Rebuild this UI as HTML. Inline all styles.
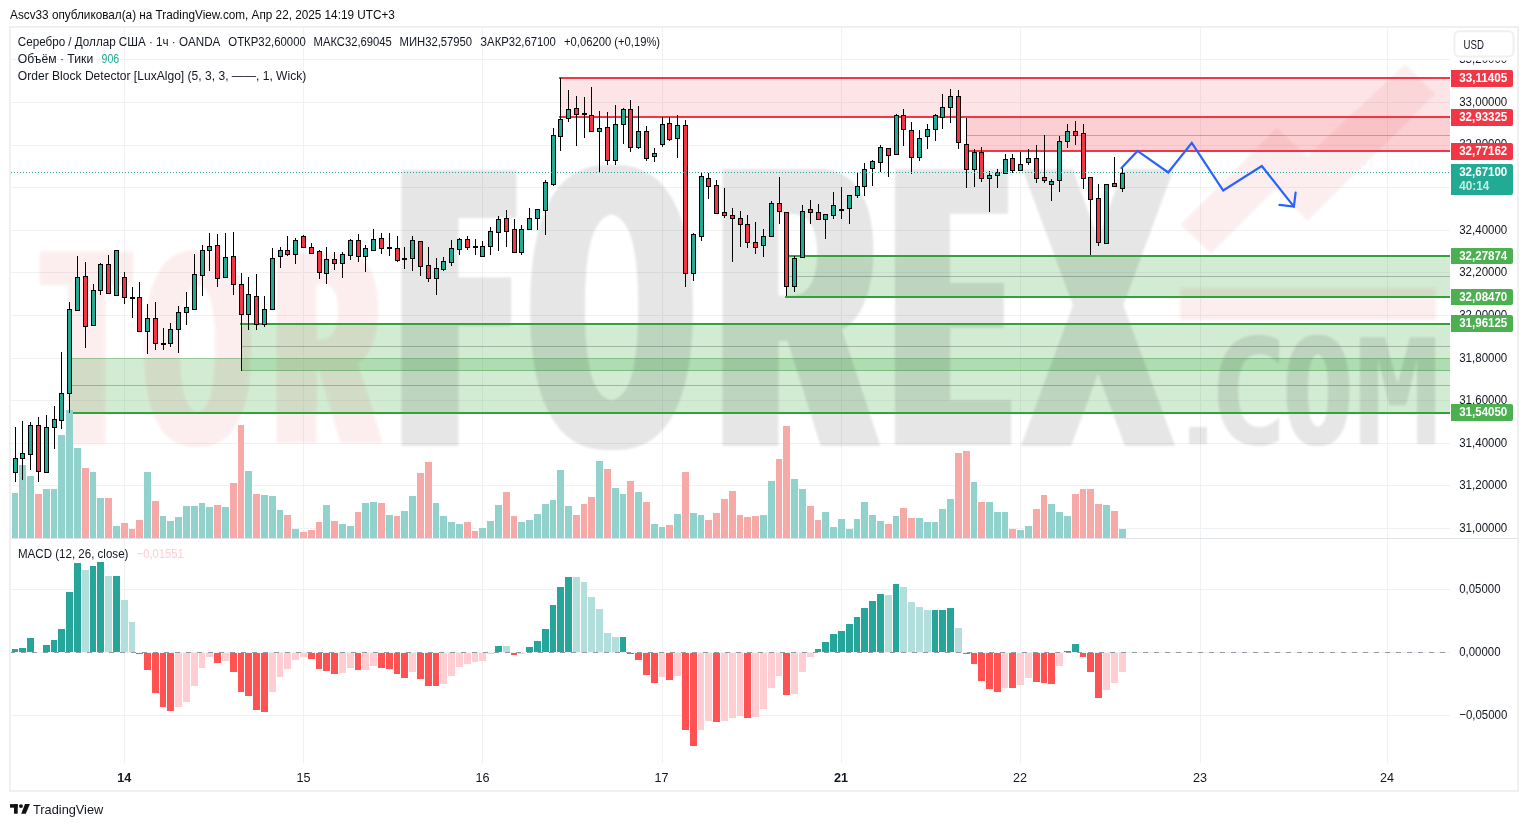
<!DOCTYPE html>
<html><head><meta charset="utf-8"><title>TradingView chart</title>
<style>
html,body{margin:0;padding:0;background:#fff;width:1528px;height:827px;overflow:hidden}
svg{position:absolute;left:0;top:0;display:block}
text{font-family:"Liberation Sans", "DejaVu Sans", sans-serif}
</style></head><body>
<svg width="1528" height="827" viewBox="0 0 1528 827" shape-rendering="crispEdges">

<g fill="#f0f1f3">
<rect x="11" y="59" width="1439" height="1"/>
<rect x="11" y="102" width="1439" height="1"/>
<rect x="11" y="145" width="1439" height="1"/>
<rect x="11" y="187" width="1439" height="1"/>
<rect x="11" y="230" width="1439" height="1"/>
<rect x="11" y="272" width="1439" height="1"/>
<rect x="11" y="315" width="1439" height="1"/>
<rect x="11" y="358" width="1439" height="1"/>
<rect x="11" y="400" width="1439" height="1"/>
<rect x="11" y="443" width="1439" height="1"/>
<rect x="11" y="485" width="1439" height="1"/>
<rect x="11" y="528" width="1439" height="1"/>
<rect x="11" y="589" width="1439" height="1"/>
<rect x="11" y="715" width="1439" height="1"/>
<rect x="124" y="28" width="1" height="735"/>
<rect x="303" y="28" width="1" height="735"/>
<rect x="482" y="28" width="1" height="735"/>
<rect x="662" y="28" width="1" height="735"/>
<rect x="841" y="28" width="1" height="735"/>
<rect x="1020" y="28" width="1" height="735"/>
<rect x="1200" y="28" width="1" height="735"/>
<rect x="1387" y="28" width="1" height="735"/>
</g>
<rect x="561.0" y="79.0" width="889.0" height="37.0" fill="rgba(242,54,69,0.13)" />
<rect x="967.0" y="118.0" width="483.0" height="32.0" fill="rgba(242,54,69,0.24)" />
<rect x="70.0" y="358.5" width="1380.0" height="53.5" fill="rgba(76,175,80,0.25)" />
<rect x="242.0" y="325.0" width="1208.0" height="45.5" fill="rgba(76,175,80,0.25)" />
<rect x="787.0" y="257.0" width="663.0" height="39.0" fill="rgba(76,175,80,0.25)" />
<defs>
<filter id="d83" x="-50%" y="-10%" width="200%" height="120%" color-interpolation-filters="sRGB"><feMorphology operator="dilate" radius="8.3 0"/></filter>
<filter id="d33" x="-50%" y="-10%" width="200%" height="120%" color-interpolation-filters="sRGB"><feMorphology operator="dilate" radius="3.3 0"/></filter>
<filter id="d96" x="-50%" y="-10%" width="200%" height="120%" color-interpolation-filters="sRGB"><feMorphology operator="dilate" radius="9.6 0"/></filter>
<filter id="d145" x="-50%" y="-10%" width="200%" height="120%" color-interpolation-filters="sRGB"><feMorphology operator="dilate" radius="14.5 0"/></filter>
<filter id="d52" x="-50%" y="-10%" width="200%" height="120%" color-interpolation-filters="sRGB"><feMorphology operator="dilate" radius="5.2 0"/></filter>
<filter id="d125" x="-50%" y="-10%" width="200%" height="120%" color-interpolation-filters="sRGB"><feMorphology operator="dilate" radius="12.5 0"/></filter>
<filter id="d170" x="-50%" y="-10%" width="200%" height="120%" color-interpolation-filters="sRGB"><feMorphology operator="dilate" radius="17.0 0"/></filter>
<filter id="d69" x="-50%" y="-10%" width="200%" height="120%" color-interpolation-filters="sRGB"><feMorphology operator="dilate" radius="6.9 0"/></filter>
<filter id="d17" x="-50%" y="-10%" width="200%" height="120%" color-interpolation-filters="sRGB"><feMorphology operator="dilate" radius="1.7 0"/></filter>
<filter id="wblur" x="-2%" y="-2%" width="104%" height="104%"><feGaussianBlur stdDeviation="0.8"/></filter>
</defs>
<g shape-rendering="geometricPrecision" filter="url(#wblur)">
<g opacity="0.09">
<g filter="url(#d83)"><text transform="translate(41.77,444.00) scale(0.07256,0.12894)" style="font-family:'DejaVu Sans Mono','Liberation Mono',monospace;font-weight:bold" font-size="2048" fill="rgb(215,45,45)">T</text></g>
<g filter="url(#d33)"><text transform="translate(138.50,442.83) scale(0.09569,0.12653)" style="font-family:'DejaVu Sans Mono','Liberation Mono',monospace;font-weight:bold" font-size="2048" fill="rgb(215,45,45)">O</text></g>
<g filter="url(#d96)"><text transform="translate(278.10,442.50) scale(0.06567,0.13449)" style="font-family:'Liberation Sans','Liberation Mono',monospace;font-weight:bold" font-size="2048" fill="rgb(215,45,45)">R</text></g>
<rect x="1180.0" y="288.0" width="256.0" height="32.0" fill="rgb(215,45,45)" />
<polygon fill="rgb(215,45,45)" points="1181,224.7 1276.5,128.8 1307.5,156.6 1405.4,64.4 1435,94.1 1307.5,220.5 1275.6,188.6 1211,253.2"/>
</g>
<g opacity="0.1">
<g filter="url(#d145)"><text transform="translate(399.88,446.00) scale(0.09134,0.18486)" style="font-family:'DejaVu Sans Mono','Liberation Mono',monospace;font-weight:bold" font-size="2048" fill="#000">F</text></g>
<g filter="url(#d52)"><text transform="translate(521.81,444.66) scale(0.14555,0.18399)" style="font-family:'DejaVu Sans Mono','Liberation Mono',monospace;font-weight:bold" font-size="2048" fill="#000">O</text></g>
<g filter="url(#d125)"><text transform="translate(721.60,446.00) scale(0.10149,0.19659)" style="font-family:'Liberation Sans','Liberation Mono',monospace;font-weight:bold" font-size="2048" fill="#000">R</text></g>
<g filter="url(#d170)"><text transform="translate(902.21,445.00) scale(0.07143,0.19588)" style="font-family:'Liberation Sans','Liberation Mono',monospace;font-weight:bold" font-size="2048" fill="#000">E</text></g>
<g filter="url(#d69)"><text transform="translate(1024.69,446.00) scale(0.11899,0.18553)" style="font-family:'DejaVu Sans Mono','Liberation Mono',monospace;font-weight:bold" font-size="2048" fill="#000">X</text></g>
<text transform="translate(1164.73,444.00) scale(0.05405,0.04632)" style="font-family:'DejaVu Sans Mono','Liberation Mono',monospace;font-weight:bold" font-size="2048" fill="#000">.</text>
<text transform="translate(1208.02,443.94) scale(0.06566,0.07101)" style="font-family:'DejaVu Sans Mono','Liberation Mono',monospace;font-weight:bold" font-size="2048" fill="#000">C</text>
<g filter="url(#d17)"><text transform="translate(1283.55,443.94) scale(0.05593,0.07101)" style="font-family:'DejaVu Sans Mono','Liberation Mono',monospace;font-weight:bold" font-size="2048" fill="#000">O</text></g>
<text transform="translate(1353.92,444.00) scale(0.07069,0.07100)" style="font-family:'DejaVu Sans Mono','Liberation Mono',monospace;font-weight:bold" font-size="2048" fill="#000">M</text>
</g>
</g>
<rect x="559.0" y="77.0" width="891.0" height="2" fill="#f23645"/>
<rect x="559.0" y="116.0" width="891.0" height="2" fill="#f23645"/>
<rect x="965.0" y="150.0" width="485.0" height="2" fill="#f23645"/>
<rect x="967.0" y="135.0" width="483.0" height="1" fill="rgba(90,90,90,0.38)"/>
<rect x="785.0" y="255.0" width="665.0" height="2" fill="#34a23a"/>
<rect x="785.0" y="296.0" width="665.0" height="2" fill="#34a23a"/>
<rect x="787.0" y="276.0" width="663.0" height="1" fill="rgba(90,90,90,0.38)"/>
<rect x="240.0" y="323.0" width="1210.0" height="2" fill="#34a23a"/>
<rect x="242.0" y="370.0" width="1208.0" height="1" fill="rgba(67,160,71,0.5)"/>
<rect x="242.0" y="346.0" width="1208.0" height="1" fill="rgba(90,90,90,0.38)"/>
<rect x="70.0" y="358.0" width="1380.0" height="1" fill="rgba(67,160,71,0.5)"/>
<rect x="70.0" y="385.0" width="1380.0" height="1" fill="rgba(90,90,90,0.38)"/>
<rect x="68.0" y="412.0" width="1382.0" height="2" fill="#34a23a"/>
<g>
<rect x="12" y="493.0" width="6" height="45.0" fill="#92d2cc"/>
<rect x="19" y="465.2" width="7" height="72.8" fill="#92d2cc"/>
<rect x="27" y="476.1" width="7" height="61.9" fill="#92d2cc"/>
<rect x="35" y="494.1" width="7" height="43.9" fill="#f7a9a7"/>
<rect x="43" y="489.1" width="7" height="48.9" fill="#92d2cc"/>
<rect x="51" y="489.1" width="6" height="48.9" fill="#92d2cc"/>
<rect x="58" y="435.2" width="7" height="102.8" fill="#92d2cc"/>
<rect x="66" y="410.2" width="7" height="127.8" fill="#92d2cc"/>
<rect x="74" y="448.3" width="7" height="89.7" fill="#92d2cc"/>
<rect x="82" y="468.2" width="7" height="69.8" fill="#f7a9a7"/>
<rect x="90" y="472.1" width="6" height="65.9" fill="#92d2cc"/>
<rect x="97" y="498.1" width="7" height="39.9" fill="#92d2cc"/>
<rect x="105" y="498.1" width="7" height="39.9" fill="#f7a9a7"/>
<rect x="113" y="526.2" width="7" height="11.8" fill="#92d2cc"/>
<rect x="121" y="523.0" width="7" height="15.0" fill="#f7a9a7"/>
<rect x="129" y="528.8" width="6" height="9.2" fill="#f7a9a7"/>
<rect x="136" y="520.0" width="7" height="18.0" fill="#f7a9a7"/>
<rect x="144" y="472.1" width="7" height="65.9" fill="#92d2cc"/>
<rect x="152" y="501.2" width="7" height="36.8" fill="#f7a9a7"/>
<rect x="160" y="516.1" width="6" height="21.9" fill="#92d2cc"/>
<rect x="167" y="521.0" width="7" height="17.0" fill="#92d2cc"/>
<rect x="175" y="517.1" width="7" height="20.9" fill="#92d2cc"/>
<rect x="183" y="506.1" width="7" height="31.9" fill="#92d2cc"/>
<rect x="191" y="506.1" width="7" height="31.9" fill="#92d2cc"/>
<rect x="199" y="502.9" width="6" height="35.1" fill="#92d2cc"/>
<rect x="206" y="507.2" width="7" height="30.8" fill="#92d2cc"/>
<rect x="214" y="505.1" width="7" height="32.9" fill="#f7a9a7"/>
<rect x="222" y="507.2" width="7" height="30.8" fill="#92d2cc"/>
<rect x="230" y="483.1" width="7" height="54.9" fill="#f7a9a7"/>
<rect x="238" y="425.0" width="6" height="113.0" fill="#f7a9a7"/>
<rect x="245" y="471.0" width="7" height="67.0" fill="#92d2cc"/>
<rect x="253" y="494.1" width="7" height="43.9" fill="#f7a9a7"/>
<rect x="261" y="495.1" width="7" height="42.9" fill="#92d2cc"/>
<rect x="269" y="496.2" width="7" height="41.8" fill="#92d2cc"/>
<rect x="277" y="510.0" width="6" height="28.0" fill="#92d2cc"/>
<rect x="284" y="515.0" width="7" height="23.0" fill="#f7a9a7"/>
<rect x="292" y="529.2" width="7" height="8.8" fill="#92d2cc"/>
<rect x="300" y="532.0" width="7" height="6.0" fill="#f7a9a7"/>
<rect x="308" y="530.0" width="7" height="8.0" fill="#f7a9a7"/>
<rect x="316" y="522.1" width="6" height="15.9" fill="#f7a9a7"/>
<rect x="323" y="505.1" width="7" height="32.9" fill="#92d2cc"/>
<rect x="331" y="521.0" width="7" height="17.0" fill="#f7a9a7"/>
<rect x="339" y="524.0" width="7" height="14.0" fill="#92d2cc"/>
<rect x="347" y="526.0" width="7" height="12.0" fill="#92d2cc"/>
<rect x="355" y="512.0" width="6" height="26.0" fill="#f7a9a7"/>
<rect x="362" y="502.9" width="7" height="35.1" fill="#92d2cc"/>
<rect x="370" y="502.0" width="7" height="36.0" fill="#92d2cc"/>
<rect x="378" y="502.9" width="7" height="35.1" fill="#f7a9a7"/>
<rect x="386" y="515.0" width="7" height="23.0" fill="#92d2cc"/>
<rect x="394" y="516.1" width="6" height="21.9" fill="#f7a9a7"/>
<rect x="401" y="511.1" width="7" height="26.9" fill="#92d2cc"/>
<rect x="409" y="496.2" width="7" height="41.8" fill="#92d2cc"/>
<rect x="417" y="473.1" width="7" height="64.9" fill="#f7a9a7"/>
<rect x="425" y="462.1" width="7" height="75.9" fill="#f7a9a7"/>
<rect x="433" y="502.9" width="6" height="35.1" fill="#92d2cc"/>
<rect x="440" y="516.1" width="7" height="21.9" fill="#92d2cc"/>
<rect x="448" y="522.1" width="7" height="15.9" fill="#92d2cc"/>
<rect x="456" y="524.0" width="7" height="14.0" fill="#92d2cc"/>
<rect x="464" y="522.1" width="7" height="15.9" fill="#f7a9a7"/>
<rect x="472" y="531.0" width="6" height="7.0" fill="#f7a9a7"/>
<rect x="479" y="528.0" width="7" height="10.0" fill="#92d2cc"/>
<rect x="487" y="521.0" width="7" height="17.0" fill="#92d2cc"/>
<rect x="495" y="505.1" width="7" height="32.9" fill="#92d2cc"/>
<rect x="503" y="492.0" width="7" height="46.0" fill="#f7a9a7"/>
<rect x="511" y="516.1" width="6" height="21.9" fill="#f7a9a7"/>
<rect x="518" y="522.1" width="7" height="15.9" fill="#92d2cc"/>
<rect x="526" y="520.0" width="7" height="18.0" fill="#92d2cc"/>
<rect x="534" y="513.9" width="7" height="24.1" fill="#92d2cc"/>
<rect x="542" y="504.0" width="7" height="34.0" fill="#92d2cc"/>
<rect x="550" y="500.1" width="6" height="37.9" fill="#92d2cc"/>
<rect x="557" y="470.0" width="7" height="68.0" fill="#92d2cc"/>
<rect x="565" y="506.1" width="7" height="31.9" fill="#92d2cc"/>
<rect x="573" y="515.0" width="7" height="23.0" fill="#f7a9a7"/>
<rect x="581" y="504.0" width="6" height="34.0" fill="#f7a9a7"/>
<rect x="588" y="497.0" width="7" height="41.0" fill="#f7a9a7"/>
<rect x="596" y="461.1" width="7" height="76.9" fill="#92d2cc"/>
<rect x="604" y="469.0" width="7" height="69.0" fill="#f7a9a7"/>
<rect x="612" y="488.0" width="7" height="50.0" fill="#92d2cc"/>
<rect x="620" y="494.1" width="6" height="43.9" fill="#92d2cc"/>
<rect x="627" y="481.0" width="7" height="57.0" fill="#f7a9a7"/>
<rect x="635" y="492.0" width="7" height="46.0" fill="#92d2cc"/>
<rect x="643" y="502.0" width="7" height="36.0" fill="#f7a9a7"/>
<rect x="651" y="524.0" width="7" height="14.0" fill="#92d2cc"/>
<rect x="659" y="527.1" width="6" height="10.9" fill="#92d2cc"/>
<rect x="666" y="524.9" width="7" height="13.1" fill="#f7a9a7"/>
<rect x="674" y="513.9" width="7" height="24.1" fill="#92d2cc"/>
<rect x="682" y="472.1" width="7" height="65.9" fill="#f7a9a7"/>
<rect x="690" y="513.0" width="7" height="25.0" fill="#92d2cc"/>
<rect x="698" y="515.0" width="6" height="23.0" fill="#92d2cc"/>
<rect x="705" y="520.0" width="7" height="18.0" fill="#f7a9a7"/>
<rect x="713" y="513.0" width="7" height="25.0" fill="#f7a9a7"/>
<rect x="721" y="499.0" width="7" height="39.0" fill="#f7a9a7"/>
<rect x="729" y="491.0" width="7" height="47.0" fill="#f7a9a7"/>
<rect x="737" y="515.0" width="6" height="23.0" fill="#f7a9a7"/>
<rect x="744" y="517.1" width="7" height="20.9" fill="#f7a9a7"/>
<rect x="752" y="516.1" width="7" height="21.9" fill="#f7a9a7"/>
<rect x="760" y="515.0" width="7" height="23.0" fill="#92d2cc"/>
<rect x="768" y="481.0" width="7" height="57.0" fill="#92d2cc"/>
<rect x="776" y="459.0" width="6" height="79.0" fill="#f7a9a7"/>
<rect x="783" y="426.0" width="7" height="112.0" fill="#f7a9a7"/>
<rect x="791" y="479.2" width="7" height="58.8" fill="#92d2cc"/>
<rect x="799" y="489.1" width="7" height="48.9" fill="#92d2cc"/>
<rect x="807" y="506.1" width="7" height="31.9" fill="#f7a9a7"/>
<rect x="815" y="520.0" width="6" height="18.0" fill="#f7a9a7"/>
<rect x="822" y="512.0" width="7" height="26.0" fill="#92d2cc"/>
<rect x="830" y="527.1" width="7" height="10.9" fill="#92d2cc"/>
<rect x="838" y="519.0" width="7" height="19.0" fill="#92d2cc"/>
<rect x="846" y="528.8" width="7" height="9.2" fill="#92d2cc"/>
<rect x="854" y="519.0" width="6" height="19.0" fill="#92d2cc"/>
<rect x="861" y="502.0" width="7" height="36.0" fill="#92d2cc"/>
<rect x="869" y="515.0" width="7" height="23.0" fill="#92d2cc"/>
<rect x="877" y="521.0" width="7" height="17.0" fill="#92d2cc"/>
<rect x="885" y="524.0" width="7" height="14.0" fill="#f7a9a7"/>
<rect x="893" y="516.1" width="6" height="21.9" fill="#92d2cc"/>
<rect x="900" y="508.0" width="7" height="30.0" fill="#f7a9a7"/>
<rect x="908" y="518.2" width="7" height="19.8" fill="#f7a9a7"/>
<rect x="916" y="518.2" width="7" height="19.8" fill="#92d2cc"/>
<rect x="924" y="522.1" width="7" height="15.9" fill="#92d2cc"/>
<rect x="932" y="522.1" width="6" height="15.9" fill="#92d2cc"/>
<rect x="939" y="509.0" width="7" height="29.0" fill="#92d2cc"/>
<rect x="947" y="499.0" width="7" height="39.0" fill="#92d2cc"/>
<rect x="955" y="453.0" width="7" height="85.0" fill="#f7a9a7"/>
<rect x="963" y="451.1" width="7" height="86.9" fill="#f7a9a7"/>
<rect x="971" y="482.0" width="6" height="56.0" fill="#92d2cc"/>
<rect x="978" y="502.0" width="7" height="36.0" fill="#f7a9a7"/>
<rect x="986" y="502.0" width="7" height="36.0" fill="#92d2cc"/>
<rect x="994" y="512.0" width="7" height="26.0" fill="#92d2cc"/>
<rect x="1002" y="512.0" width="6" height="26.0" fill="#92d2cc"/>
<rect x="1009" y="528.8" width="7" height="9.2" fill="#f7a9a7"/>
<rect x="1017" y="530.0" width="7" height="8.0" fill="#92d2cc"/>
<rect x="1025" y="526.0" width="7" height="12.0" fill="#92d2cc"/>
<rect x="1033" y="509.0" width="7" height="29.0" fill="#f7a9a7"/>
<rect x="1041" y="495.1" width="6" height="42.9" fill="#f7a9a7"/>
<rect x="1048" y="504.0" width="7" height="34.0" fill="#92d2cc"/>
<rect x="1056" y="512.0" width="7" height="26.0" fill="#92d2cc"/>
<rect x="1064" y="516.1" width="7" height="21.9" fill="#92d2cc"/>
<rect x="1072" y="494.1" width="7" height="43.9" fill="#f7a9a7"/>
<rect x="1080" y="489.1" width="6" height="48.9" fill="#f7a9a7"/>
<rect x="1087" y="489.1" width="7" height="48.9" fill="#f7a9a7"/>
<rect x="1095" y="504.0" width="7" height="34.0" fill="#f7a9a7"/>
<rect x="1103" y="505.1" width="7" height="32.9" fill="#92d2cc"/>
<rect x="1111" y="511.1" width="7" height="26.9" fill="#f7a9a7"/>
<rect x="1119" y="528.8" width="7" height="9.2" fill="#92d2cc"/>
</g>
<g>
<rect x="15" y="427.2" width="1" height="54.4" fill="#000"/>
<rect x="13" y="458.4" width="5" height="15.0" fill="#000"/>
<rect x="14" y="459.4" width="3" height="13.0" fill="#22ab94"/>
<rect x="22" y="421.4" width="1" height="58.4" fill="#000"/>
<rect x="20" y="453.3" width="5" height="5.3" fill="#000"/>
<rect x="21" y="454.3" width="3" height="3.3" fill="#22ab94"/>
<rect x="30" y="422.0" width="1" height="47.7" fill="#000"/>
<rect x="28" y="425.3" width="5" height="29.3" fill="#000"/>
<rect x="29" y="426.3" width="3" height="27.3" fill="#22ab94"/>
<rect x="38" y="417.3" width="1" height="64.3" fill="#000"/>
<rect x="36" y="425.4" width="5" height="47.0" fill="#000"/>
<rect x="37" y="426.4" width="3" height="45.0" fill="#f23645"/>
<rect x="46" y="415.3" width="1" height="57.3" fill="#000"/>
<rect x="44" y="427.2" width="5" height="45.5" fill="#000"/>
<rect x="45" y="428.2" width="3" height="43.5" fill="#22ab94"/>
<rect x="54" y="406.1" width="1" height="42.5" fill="#000"/>
<rect x="52" y="419.2" width="5" height="9.2" fill="#000"/>
<rect x="53" y="420.2" width="3" height="7.2" fill="#22ab94"/>
<rect x="61" y="352.0" width="1" height="76.6" fill="#000"/>
<rect x="59" y="393.3" width="5" height="27.2" fill="#000"/>
<rect x="60" y="394.3" width="3" height="25.2" fill="#22ab94"/>
<rect x="69" y="302.3" width="1" height="110.3" fill="#000"/>
<rect x="67" y="308.5" width="5" height="85.8" fill="#000"/>
<rect x="68" y="309.5" width="3" height="83.8" fill="#22ab94"/>
<rect x="77" y="255.9" width="1" height="55.5" fill="#000"/>
<rect x="75" y="277.2" width="5" height="33.3" fill="#000"/>
<rect x="76" y="278.2" width="3" height="31.3" fill="#22ab94"/>
<rect x="85" y="262.1" width="1" height="85.5" fill="#000"/>
<rect x="83" y="276.2" width="5" height="51.1" fill="#000"/>
<rect x="84" y="277.2" width="3" height="49.1" fill="#f23645"/>
<rect x="93" y="284.3" width="1" height="41.0" fill="#000"/>
<rect x="91" y="290.3" width="5" height="36.0" fill="#000"/>
<rect x="92" y="291.3" width="3" height="34.0" fill="#22ab94"/>
<rect x="100" y="263.0" width="1" height="32.4" fill="#000"/>
<rect x="98" y="264.0" width="5" height="26.6" fill="#000"/>
<rect x="99" y="265.0" width="3" height="24.6" fill="#22ab94"/>
<rect x="108" y="254.9" width="1" height="38.5" fill="#000"/>
<rect x="106" y="264.4" width="5" height="30.0" fill="#000"/>
<rect x="107" y="265.4" width="3" height="28.0" fill="#f23645"/>
<rect x="116" y="250.1" width="1" height="45.3" fill="#000"/>
<rect x="114" y="250.1" width="5" height="45.5" fill="#000"/>
<rect x="115" y="251.1" width="3" height="43.5" fill="#22ab94"/>
<rect x="124" y="272.1" width="1" height="31.6" fill="#000"/>
<rect x="122" y="277.2" width="5" height="20.3" fill="#000"/>
<rect x="123" y="278.2" width="3" height="18.3" fill="#f23645"/>
<rect x="132" y="286.8" width="1" height="31.0" fill="#000"/>
<rect x="130" y="297.3" width="5" height="2.0" fill="#000"/>
<rect x="139" y="282.0" width="1" height="49.2" fill="#000"/>
<rect x="137" y="297.3" width="5" height="34.9" fill="#000"/>
<rect x="138" y="298.3" width="3" height="32.9" fill="#f23645"/>
<rect x="147" y="304.0" width="1" height="50.4" fill="#000"/>
<rect x="145" y="317.6" width="5" height="14.6" fill="#000"/>
<rect x="146" y="318.6" width="3" height="12.6" fill="#22ab94"/>
<rect x="155" y="302.1" width="1" height="47.4" fill="#000"/>
<rect x="153" y="317.6" width="5" height="26.7" fill="#000"/>
<rect x="154" y="318.6" width="3" height="24.7" fill="#f23645"/>
<rect x="163" y="327.9" width="1" height="21.6" fill="#000"/>
<rect x="161" y="343.3" width="5" height="2.0" fill="#000"/>
<rect x="170" y="323.0" width="1" height="23.5" fill="#000"/>
<rect x="168" y="329.4" width="5" height="14.9" fill="#000"/>
<rect x="169" y="330.4" width="3" height="12.9" fill="#22ab94"/>
<rect x="178" y="306.3" width="1" height="46.4" fill="#000"/>
<rect x="176" y="312.4" width="5" height="17.1" fill="#000"/>
<rect x="177" y="313.4" width="3" height="15.1" fill="#22ab94"/>
<rect x="186" y="292.1" width="1" height="32.5" fill="#000"/>
<rect x="184" y="307.2" width="5" height="6.2" fill="#000"/>
<rect x="185" y="308.2" width="3" height="4.2" fill="#22ab94"/>
<rect x="194" y="254.0" width="1" height="55.7" fill="#000"/>
<rect x="192" y="274.3" width="5" height="35.9" fill="#000"/>
<rect x="193" y="275.3" width="3" height="33.9" fill="#22ab94"/>
<rect x="202" y="244.9" width="1" height="50.7" fill="#000"/>
<rect x="200" y="250.1" width="5" height="25.6" fill="#000"/>
<rect x="201" y="251.1" width="3" height="23.6" fill="#22ab94"/>
<rect x="209" y="233.1" width="1" height="38.3" fill="#000"/>
<rect x="207" y="246.3" width="5" height="4.8" fill="#000"/>
<rect x="208" y="247.3" width="3" height="2.8" fill="#22ab94"/>
<rect x="217" y="234.3" width="1" height="52.2" fill="#000"/>
<rect x="215" y="245.3" width="5" height="33.9" fill="#000"/>
<rect x="216" y="246.3" width="3" height="31.9" fill="#f23645"/>
<rect x="225" y="233.1" width="1" height="44.1" fill="#000"/>
<rect x="223" y="257.3" width="5" height="20.9" fill="#000"/>
<rect x="224" y="258.3" width="3" height="18.9" fill="#22ab94"/>
<rect x="233" y="232.4" width="1" height="62.2" fill="#000"/>
<rect x="231" y="256.3" width="5" height="29.1" fill="#000"/>
<rect x="232" y="257.3" width="3" height="27.1" fill="#f23645"/>
<rect x="241" y="273.4" width="1" height="97.1" fill="#000"/>
<rect x="239" y="284.4" width="5" height="31.0" fill="#000"/>
<rect x="240" y="285.4" width="3" height="29.0" fill="#f23645"/>
<rect x="248" y="277.2" width="1" height="52.3" fill="#000"/>
<rect x="246" y="294.1" width="5" height="20.5" fill="#000"/>
<rect x="247" y="295.1" width="3" height="18.5" fill="#22ab94"/>
<rect x="256" y="274.3" width="1" height="56.1" fill="#000"/>
<rect x="254" y="295.6" width="5" height="29.6" fill="#000"/>
<rect x="255" y="296.6" width="3" height="27.6" fill="#f23645"/>
<rect x="264" y="296.2" width="1" height="30.4" fill="#000"/>
<rect x="262" y="308.6" width="5" height="16.1" fill="#000"/>
<rect x="263" y="309.6" width="3" height="14.1" fill="#22ab94"/>
<rect x="272" y="248.2" width="1" height="61.0" fill="#000"/>
<rect x="270" y="257.5" width="5" height="52.1" fill="#000"/>
<rect x="271" y="258.5" width="3" height="50.1" fill="#22ab94"/>
<rect x="280" y="247.2" width="1" height="20.4" fill="#000"/>
<rect x="278" y="250.1" width="5" height="7.2" fill="#000"/>
<rect x="279" y="251.1" width="3" height="5.2" fill="#22ab94"/>
<rect x="287" y="236.2" width="1" height="20.1" fill="#000"/>
<rect x="285" y="250.1" width="5" height="5.3" fill="#000"/>
<rect x="286" y="251.1" width="3" height="3.3" fill="#f23645"/>
<rect x="295" y="238.2" width="1" height="25.3" fill="#000"/>
<rect x="293" y="240.3" width="5" height="15.1" fill="#000"/>
<rect x="294" y="241.3" width="3" height="13.1" fill="#22ab94"/>
<rect x="303" y="235.0" width="1" height="11.6" fill="#000"/>
<rect x="301" y="236.3" width="5" height="11.3" fill="#000"/>
<rect x="302" y="237.3" width="3" height="9.3" fill="#f23645"/>
<rect x="311" y="243.0" width="1" height="10.8" fill="#000"/>
<rect x="309" y="247.4" width="5" height="6.3" fill="#000"/>
<rect x="310" y="248.4" width="3" height="4.3" fill="#f23645"/>
<rect x="319" y="250.3" width="1" height="28.4" fill="#000"/>
<rect x="317" y="251.2" width="5" height="21.3" fill="#000"/>
<rect x="318" y="252.2" width="3" height="19.3" fill="#f23645"/>
<rect x="326" y="247.2" width="1" height="36.7" fill="#000"/>
<rect x="324" y="259.4" width="5" height="14.2" fill="#000"/>
<rect x="325" y="260.4" width="3" height="12.2" fill="#22ab94"/>
<rect x="334" y="252.0" width="1" height="18.0" fill="#000"/>
<rect x="332" y="259.4" width="5" height="4.1" fill="#000"/>
<rect x="333" y="260.4" width="3" height="2.1" fill="#f23645"/>
<rect x="342" y="252.2" width="1" height="25.5" fill="#000"/>
<rect x="340" y="254.4" width="5" height="9.1" fill="#000"/>
<rect x="341" y="255.4" width="3" height="7.1" fill="#22ab94"/>
<rect x="350" y="239.4" width="1" height="20.3" fill="#000"/>
<rect x="348" y="240.2" width="5" height="15.4" fill="#000"/>
<rect x="349" y="241.2" width="3" height="13.4" fill="#22ab94"/>
<rect x="358" y="234.0" width="1" height="27.8" fill="#000"/>
<rect x="356" y="240.2" width="5" height="16.4" fill="#000"/>
<rect x="357" y="241.2" width="3" height="14.4" fill="#f23645"/>
<rect x="365" y="245.1" width="1" height="26.4" fill="#000"/>
<rect x="363" y="248.4" width="5" height="8.2" fill="#000"/>
<rect x="364" y="249.4" width="3" height="6.2" fill="#22ab94"/>
<rect x="373" y="229.1" width="1" height="20.5" fill="#000"/>
<rect x="371" y="239.4" width="5" height="11.2" fill="#000"/>
<rect x="372" y="240.4" width="3" height="9.2" fill="#22ab94"/>
<rect x="381" y="233.0" width="1" height="20.8" fill="#000"/>
<rect x="379" y="238.4" width="5" height="11.0" fill="#000"/>
<rect x="380" y="239.4" width="3" height="9.0" fill="#f23645"/>
<rect x="389" y="233.0" width="1" height="22.8" fill="#000"/>
<rect x="387" y="247.4" width="5" height="2.0" fill="#000"/>
<rect x="397" y="236.1" width="1" height="25.7" fill="#000"/>
<rect x="395" y="248.4" width="5" height="12.3" fill="#000"/>
<rect x="396" y="249.4" width="3" height="10.3" fill="#f23645"/>
<rect x="404" y="247.1" width="1" height="21.5" fill="#000"/>
<rect x="402" y="258.4" width="5" height="2.0" fill="#000"/>
<rect x="412" y="236.1" width="1" height="34.9" fill="#000"/>
<rect x="410" y="240.2" width="5" height="19.2" fill="#000"/>
<rect x="411" y="241.2" width="3" height="17.2" fill="#22ab94"/>
<rect x="420" y="241.3" width="1" height="34.3" fill="#000"/>
<rect x="418" y="241.3" width="5" height="25.2" fill="#000"/>
<rect x="419" y="242.3" width="3" height="23.2" fill="#f23645"/>
<rect x="428" y="247.0" width="1" height="34.7" fill="#000"/>
<rect x="426" y="265.2" width="5" height="13.3" fill="#000"/>
<rect x="427" y="266.2" width="3" height="11.3" fill="#f23645"/>
<rect x="436" y="258.1" width="1" height="36.6" fill="#000"/>
<rect x="434" y="268.4" width="5" height="10.1" fill="#000"/>
<rect x="435" y="269.4" width="3" height="8.1" fill="#22ab94"/>
<rect x="443" y="257.2" width="1" height="13.3" fill="#000"/>
<rect x="441" y="261.3" width="5" height="8.3" fill="#000"/>
<rect x="442" y="262.3" width="3" height="6.3" fill="#22ab94"/>
<rect x="451" y="240.1" width="1" height="25.4" fill="#000"/>
<rect x="449" y="248.3" width="5" height="15.0" fill="#000"/>
<rect x="450" y="249.3" width="3" height="13.0" fill="#22ab94"/>
<rect x="459" y="238.2" width="1" height="16.5" fill="#000"/>
<rect x="457" y="239.1" width="5" height="10.5" fill="#000"/>
<rect x="458" y="240.1" width="3" height="8.5" fill="#22ab94"/>
<rect x="467" y="236.3" width="1" height="13.3" fill="#000"/>
<rect x="465" y="239.4" width="5" height="9.0" fill="#000"/>
<rect x="466" y="240.4" width="3" height="7.0" fill="#f23645"/>
<rect x="475" y="239.2" width="1" height="15.5" fill="#000"/>
<rect x="473" y="246.4" width="5" height="2.0" fill="#000"/>
<rect x="482" y="241.3" width="1" height="15.3" fill="#000"/>
<rect x="480" y="246.4" width="5" height="10.3" fill="#000"/>
<rect x="481" y="247.4" width="3" height="8.3" fill="#22ab94"/>
<rect x="490" y="227.4" width="1" height="27.3" fill="#000"/>
<rect x="488" y="231.4" width="5" height="16.0" fill="#000"/>
<rect x="489" y="232.4" width="3" height="14.0" fill="#22ab94"/>
<rect x="498" y="216.2" width="1" height="34.4" fill="#000"/>
<rect x="496" y="219.4" width="5" height="13.2" fill="#000"/>
<rect x="497" y="220.4" width="3" height="11.2" fill="#22ab94"/>
<rect x="506" y="210.2" width="1" height="36.5" fill="#000"/>
<rect x="504" y="218.2" width="5" height="13.3" fill="#000"/>
<rect x="505" y="219.2" width="3" height="11.3" fill="#f23645"/>
<rect x="514" y="219.1" width="1" height="32.4" fill="#000"/>
<rect x="512" y="229.3" width="5" height="23.2" fill="#000"/>
<rect x="513" y="230.3" width="3" height="21.2" fill="#f23645"/>
<rect x="521" y="225.2" width="1" height="29.5" fill="#000"/>
<rect x="519" y="229.3" width="5" height="23.2" fill="#000"/>
<rect x="520" y="230.3" width="3" height="21.2" fill="#22ab94"/>
<rect x="529" y="208.2" width="1" height="21.3" fill="#000"/>
<rect x="527" y="217.5" width="5" height="12.9" fill="#000"/>
<rect x="528" y="218.5" width="3" height="10.9" fill="#22ab94"/>
<rect x="537" y="209.3" width="1" height="20.7" fill="#000"/>
<rect x="535" y="209.3" width="5" height="9.2" fill="#000"/>
<rect x="536" y="210.3" width="3" height="7.2" fill="#22ab94"/>
<rect x="545" y="180.3" width="1" height="54.4" fill="#000"/>
<rect x="543" y="182.3" width="5" height="28.2" fill="#000"/>
<rect x="544" y="183.3" width="3" height="26.2" fill="#22ab94"/>
<rect x="553" y="128.0" width="1" height="57.6" fill="#000"/>
<rect x="551" y="135.3" width="5" height="49.2" fill="#000"/>
<rect x="552" y="136.3" width="3" height="47.2" fill="#22ab94"/>
<rect x="560" y="77.5" width="1" height="73.2" fill="#000"/>
<rect x="558" y="119.3" width="5" height="18.1" fill="#000"/>
<rect x="559" y="120.3" width="3" height="16.1" fill="#22ab94"/>
<rect x="568" y="90.2" width="1" height="31.5" fill="#000"/>
<rect x="566" y="109.2" width="5" height="10.1" fill="#000"/>
<rect x="567" y="110.2" width="3" height="8.1" fill="#22ab94"/>
<rect x="576" y="96.0" width="1" height="49.8" fill="#000"/>
<rect x="574" y="108.4" width="5" height="6.9" fill="#000"/>
<rect x="575" y="109.4" width="3" height="4.9" fill="#f23645"/>
<rect x="584" y="97.2" width="1" height="40.6" fill="#000"/>
<rect x="582" y="113.4" width="5" height="2.0" fill="#000"/>
<rect x="591" y="87.1" width="1" height="44.7" fill="#000"/>
<rect x="589" y="115.3" width="5" height="16.2" fill="#000"/>
<rect x="590" y="116.3" width="3" height="14.2" fill="#f23645"/>
<rect x="599" y="111.2" width="1" height="61.6" fill="#000"/>
<rect x="597" y="128.4" width="5" height="3.1" fill="#000"/>
<rect x="598" y="129.4" width="3" height="1.1" fill="#22ab94"/>
<rect x="607" y="112.0" width="1" height="52.5" fill="#000"/>
<rect x="605" y="127.3" width="5" height="34.0" fill="#000"/>
<rect x="606" y="128.3" width="3" height="32.0" fill="#f23645"/>
<rect x="615" y="105.1" width="1" height="59.4" fill="#000"/>
<rect x="613" y="124.3" width="5" height="37.0" fill="#000"/>
<rect x="614" y="125.3" width="3" height="35.0" fill="#22ab94"/>
<rect x="623" y="108.2" width="1" height="35.5" fill="#000"/>
<rect x="621" y="109.2" width="5" height="16.1" fill="#000"/>
<rect x="622" y="110.2" width="3" height="14.1" fill="#22ab94"/>
<rect x="630" y="100.0" width="1" height="51.5" fill="#000"/>
<rect x="628" y="109.2" width="5" height="38.3" fill="#000"/>
<rect x="629" y="110.2" width="3" height="36.3" fill="#f23645"/>
<rect x="638" y="106.0" width="1" height="42.6" fill="#000"/>
<rect x="636" y="131.3" width="5" height="16.2" fill="#000"/>
<rect x="637" y="132.3" width="3" height="14.2" fill="#22ab94"/>
<rect x="646" y="126.1" width="1" height="34.7" fill="#000"/>
<rect x="644" y="131.3" width="5" height="27.2" fill="#000"/>
<rect x="645" y="132.3" width="3" height="25.2" fill="#f23645"/>
<rect x="654" y="148.0" width="1" height="14.4" fill="#000"/>
<rect x="652" y="153.4" width="5" height="3.8" fill="#000"/>
<rect x="653" y="154.4" width="3" height="1.8" fill="#22ab94"/>
<rect x="662" y="116.5" width="1" height="30.1" fill="#000"/>
<rect x="660" y="123.5" width="5" height="21.3" fill="#000"/>
<rect x="661" y="124.5" width="3" height="19.3" fill="#22ab94"/>
<rect x="669" y="116.5" width="1" height="24.0" fill="#000"/>
<rect x="667" y="122.6" width="5" height="17.8" fill="#000"/>
<rect x="668" y="123.6" width="3" height="15.8" fill="#f23645"/>
<rect x="677" y="114.8" width="1" height="42.7" fill="#000"/>
<rect x="675" y="125.2" width="5" height="14.1" fill="#000"/>
<rect x="676" y="126.2" width="3" height="12.1" fill="#22ab94"/>
<rect x="685" y="119.8" width="1" height="167.0" fill="#000"/>
<rect x="683" y="125.2" width="5" height="149.1" fill="#000"/>
<rect x="684" y="126.2" width="3" height="147.1" fill="#f23645"/>
<rect x="693" y="233.0" width="1" height="47.9" fill="#000"/>
<rect x="691" y="234.1" width="5" height="40.2" fill="#000"/>
<rect x="692" y="235.1" width="3" height="38.2" fill="#22ab94"/>
<rect x="701" y="173.2" width="1" height="67.5" fill="#000"/>
<rect x="699" y="176.4" width="5" height="60.9" fill="#000"/>
<rect x="700" y="177.4" width="3" height="58.9" fill="#22ab94"/>
<rect x="708" y="172.7" width="1" height="26.2" fill="#000"/>
<rect x="706" y="177.5" width="5" height="9.1" fill="#000"/>
<rect x="707" y="178.5" width="3" height="7.1" fill="#f23645"/>
<rect x="716" y="180.1" width="1" height="33.3" fill="#000"/>
<rect x="714" y="185.1" width="5" height="29.3" fill="#000"/>
<rect x="715" y="186.1" width="3" height="27.3" fill="#f23645"/>
<rect x="724" y="188.0" width="1" height="29.8" fill="#000"/>
<rect x="722" y="212.4" width="5" height="3.1" fill="#000"/>
<rect x="723" y="213.4" width="3" height="1.1" fill="#f23645"/>
<rect x="732" y="208.4" width="1" height="53.4" fill="#000"/>
<rect x="730" y="214.5" width="5" height="4.7" fill="#000"/>
<rect x="731" y="215.5" width="3" height="2.7" fill="#f23645"/>
<rect x="740" y="211.3" width="1" height="35.5" fill="#000"/>
<rect x="738" y="218.2" width="5" height="7.1" fill="#000"/>
<rect x="739" y="219.2" width="3" height="5.1" fill="#f23645"/>
<rect x="747" y="215.2" width="1" height="33.1" fill="#000"/>
<rect x="745" y="224.3" width="5" height="18.9" fill="#000"/>
<rect x="746" y="225.3" width="3" height="16.9" fill="#f23645"/>
<rect x="755" y="222.1" width="1" height="31.6" fill="#000"/>
<rect x="753" y="242.2" width="5" height="5.3" fill="#000"/>
<rect x="754" y="243.2" width="3" height="3.3" fill="#f23645"/>
<rect x="763" y="229.3" width="1" height="27.3" fill="#000"/>
<rect x="761" y="236.3" width="5" height="9.3" fill="#000"/>
<rect x="762" y="237.3" width="3" height="7.3" fill="#22ab94"/>
<rect x="771" y="201.0" width="1" height="35.3" fill="#000"/>
<rect x="769" y="203.3" width="5" height="34.0" fill="#000"/>
<rect x="770" y="204.3" width="3" height="32.0" fill="#22ab94"/>
<rect x="779" y="177.1" width="1" height="46.5" fill="#000"/>
<rect x="777" y="203.3" width="5" height="8.3" fill="#000"/>
<rect x="778" y="204.3" width="3" height="6.3" fill="#f23645"/>
<rect x="786" y="211.6" width="1" height="84.7" fill="#000"/>
<rect x="784" y="211.6" width="5" height="75.8" fill="#000"/>
<rect x="785" y="212.6" width="3" height="73.8" fill="#f23645"/>
<rect x="794" y="255.5" width="1" height="36.4" fill="#000"/>
<rect x="792" y="258.4" width="5" height="28.1" fill="#000"/>
<rect x="793" y="259.4" width="3" height="26.1" fill="#22ab94"/>
<rect x="802" y="205.2" width="1" height="51.8" fill="#000"/>
<rect x="800" y="210.6" width="5" height="47.4" fill="#000"/>
<rect x="801" y="211.6" width="3" height="45.4" fill="#22ab94"/>
<rect x="810" y="200.0" width="1" height="23.6" fill="#000"/>
<rect x="808" y="209.3" width="5" height="3.3" fill="#000"/>
<rect x="809" y="210.3" width="3" height="1.3" fill="#f23645"/>
<rect x="818" y="203.8" width="1" height="15.5" fill="#000"/>
<rect x="816" y="211.6" width="5" height="8.7" fill="#000"/>
<rect x="817" y="212.6" width="3" height="6.7" fill="#f23645"/>
<rect x="825" y="213.5" width="1" height="25.2" fill="#000"/>
<rect x="823" y="214.1" width="5" height="6.2" fill="#000"/>
<rect x="824" y="215.1" width="3" height="4.2" fill="#22ab94"/>
<rect x="833" y="191.8" width="1" height="26.9" fill="#000"/>
<rect x="831" y="205.4" width="5" height="10.1" fill="#000"/>
<rect x="832" y="206.4" width="3" height="8.1" fill="#22ab94"/>
<rect x="841" y="187.0" width="1" height="32.3" fill="#000"/>
<rect x="839" y="209.1" width="5" height="2.0" fill="#000"/>
<rect x="849" y="194.6" width="1" height="29.0" fill="#000"/>
<rect x="847" y="195.1" width="5" height="14.2" fill="#000"/>
<rect x="848" y="196.1" width="3" height="12.2" fill="#22ab94"/>
<rect x="857" y="173.3" width="1" height="24.2" fill="#000"/>
<rect x="855" y="185.5" width="5" height="10.1" fill="#000"/>
<rect x="856" y="186.5" width="3" height="8.1" fill="#22ab94"/>
<rect x="864" y="163.2" width="1" height="32.3" fill="#000"/>
<rect x="862" y="168.6" width="5" height="18.8" fill="#000"/>
<rect x="863" y="169.6" width="3" height="16.8" fill="#22ab94"/>
<rect x="872" y="159.9" width="1" height="25.6" fill="#000"/>
<rect x="870" y="161.3" width="5" height="7.2" fill="#000"/>
<rect x="871" y="162.3" width="3" height="5.2" fill="#22ab94"/>
<rect x="880" y="145.4" width="1" height="26.5" fill="#000"/>
<rect x="878" y="147.4" width="5" height="15.8" fill="#000"/>
<rect x="879" y="148.4" width="3" height="13.8" fill="#22ab94"/>
<rect x="888" y="148.4" width="1" height="28.1" fill="#000"/>
<rect x="886" y="148.4" width="5" height="7.1" fill="#000"/>
<rect x="887" y="149.4" width="3" height="5.1" fill="#f23645"/>
<rect x="896" y="113.5" width="1" height="40.8" fill="#000"/>
<rect x="894" y="115.2" width="5" height="40.1" fill="#000"/>
<rect x="895" y="116.2" width="3" height="38.1" fill="#22ab94"/>
<rect x="903" y="109.1" width="1" height="37.3" fill="#000"/>
<rect x="901" y="115.2" width="5" height="15.2" fill="#000"/>
<rect x="902" y="116.2" width="3" height="13.2" fill="#f23645"/>
<rect x="911" y="122.3" width="1" height="52.1" fill="#000"/>
<rect x="909" y="130.3" width="5" height="28.1" fill="#000"/>
<rect x="910" y="131.3" width="3" height="26.1" fill="#f23645"/>
<rect x="919" y="130.3" width="1" height="30.9" fill="#000"/>
<rect x="917" y="137.5" width="5" height="20.9" fill="#000"/>
<rect x="918" y="138.5" width="3" height="18.9" fill="#22ab94"/>
<rect x="927" y="123.5" width="1" height="25.9" fill="#000"/>
<rect x="925" y="128.6" width="5" height="8.8" fill="#000"/>
<rect x="926" y="129.6" width="3" height="6.8" fill="#22ab94"/>
<rect x="935" y="114.2" width="1" height="26.4" fill="#000"/>
<rect x="933" y="115.2" width="5" height="14.4" fill="#000"/>
<rect x="934" y="116.2" width="3" height="12.4" fill="#22ab94"/>
<rect x="942" y="94.4" width="1" height="35.0" fill="#000"/>
<rect x="940" y="107.4" width="5" height="10.8" fill="#000"/>
<rect x="941" y="108.4" width="3" height="8.8" fill="#22ab94"/>
<rect x="950" y="89.3" width="1" height="33.4" fill="#000"/>
<rect x="948" y="95.6" width="5" height="12.8" fill="#000"/>
<rect x="949" y="96.6" width="3" height="10.8" fill="#22ab94"/>
<rect x="958" y="90.2" width="1" height="58.4" fill="#000"/>
<rect x="956" y="95.6" width="5" height="47.7" fill="#000"/>
<rect x="957" y="96.6" width="3" height="45.7" fill="#f23645"/>
<rect x="966" y="117.6" width="1" height="70.7" fill="#000"/>
<rect x="964" y="143.8" width="5" height="26.4" fill="#000"/>
<rect x="965" y="144.8" width="3" height="24.4" fill="#f23645"/>
<rect x="974" y="149.4" width="1" height="37.2" fill="#000"/>
<rect x="972" y="152.4" width="5" height="17.8" fill="#000"/>
<rect x="973" y="153.4" width="3" height="15.8" fill="#22ab94"/>
<rect x="981" y="147.2" width="1" height="35.2" fill="#000"/>
<rect x="979" y="152.4" width="5" height="26.8" fill="#000"/>
<rect x="980" y="153.4" width="3" height="24.8" fill="#f23645"/>
<rect x="989" y="171.4" width="1" height="40.1" fill="#000"/>
<rect x="987" y="175.3" width="5" height="3.4" fill="#000"/>
<rect x="988" y="176.3" width="3" height="1.4" fill="#22ab94"/>
<rect x="997" y="169.2" width="1" height="19.1" fill="#000"/>
<rect x="995" y="172.2" width="5" height="4.1" fill="#000"/>
<rect x="996" y="173.2" width="3" height="2.1" fill="#22ab94"/>
<rect x="1005" y="154.1" width="1" height="18.5" fill="#000"/>
<rect x="1003" y="159.3" width="5" height="14.3" fill="#000"/>
<rect x="1004" y="160.3" width="3" height="12.3" fill="#22ab94"/>
<rect x="1012" y="154.1" width="1" height="18.5" fill="#000"/>
<rect x="1010" y="158.4" width="5" height="13.0" fill="#000"/>
<rect x="1011" y="159.4" width="3" height="11.0" fill="#f23645"/>
<rect x="1020" y="152.2" width="1" height="18.2" fill="#000"/>
<rect x="1018" y="163.5" width="5" height="7.9" fill="#000"/>
<rect x="1019" y="164.5" width="3" height="5.9" fill="#22ab94"/>
<rect x="1028" y="149.0" width="1" height="16.3" fill="#000"/>
<rect x="1026" y="157.5" width="5" height="5.7" fill="#000"/>
<rect x="1027" y="158.5" width="3" height="3.7" fill="#22ab94"/>
<rect x="1036" y="145.0" width="1" height="37.5" fill="#000"/>
<rect x="1034" y="158.4" width="5" height="20.1" fill="#000"/>
<rect x="1035" y="159.4" width="3" height="18.1" fill="#f23645"/>
<rect x="1044" y="135.4" width="1" height="48.0" fill="#000"/>
<rect x="1042" y="176.5" width="5" height="4.9" fill="#000"/>
<rect x="1043" y="177.5" width="3" height="2.9" fill="#f23645"/>
<rect x="1051" y="178.5" width="1" height="22.2" fill="#000"/>
<rect x="1049" y="181.3" width="5" height="4.0" fill="#000"/>
<rect x="1050" y="182.3" width="3" height="2.0" fill="#22ab94"/>
<rect x="1059" y="136.3" width="1" height="55.3" fill="#000"/>
<rect x="1057" y="141.4" width="5" height="40.0" fill="#000"/>
<rect x="1058" y="142.4" width="3" height="38.0" fill="#22ab94"/>
<rect x="1067" y="124.1" width="1" height="23.4" fill="#000"/>
<rect x="1065" y="130.5" width="5" height="11.9" fill="#000"/>
<rect x="1066" y="131.5" width="3" height="9.9" fill="#22ab94"/>
<rect x="1075" y="121.2" width="1" height="23.3" fill="#000"/>
<rect x="1073" y="130.5" width="5" height="5.0" fill="#000"/>
<rect x="1074" y="131.5" width="3" height="3.0" fill="#f23645"/>
<rect x="1083" y="124.1" width="1" height="65.3" fill="#000"/>
<rect x="1081" y="133.2" width="5" height="46.2" fill="#000"/>
<rect x="1082" y="134.2" width="3" height="44.2" fill="#f23645"/>
<rect x="1090" y="177.1" width="1" height="77.4" fill="#000"/>
<rect x="1088" y="177.1" width="5" height="22.4" fill="#000"/>
<rect x="1089" y="178.1" width="3" height="20.4" fill="#f23645"/>
<rect x="1098" y="184.3" width="1" height="62.1" fill="#000"/>
<rect x="1096" y="197.6" width="5" height="45.8" fill="#000"/>
<rect x="1097" y="198.6" width="3" height="43.8" fill="#f23645"/>
<rect x="1106" y="184.3" width="1" height="59.0" fill="#000"/>
<rect x="1104" y="184.3" width="5" height="60.0" fill="#000"/>
<rect x="1105" y="185.3" width="3" height="58.0" fill="#22ab94"/>
<rect x="1114" y="157.1" width="1" height="29.1" fill="#000"/>
<rect x="1112" y="183.4" width="5" height="3.8" fill="#000"/>
<rect x="1113" y="184.4" width="3" height="1.8" fill="#f23645"/>
<rect x="1122" y="168.4" width="1" height="23.2" fill="#000"/>
<rect x="1120" y="172.6" width="5" height="16.7" fill="#000"/>
<rect x="1121" y="173.6" width="3" height="14.7" fill="#22ab94"/>
</g>
<line x1="11" y1="172.5" x2="1450" y2="172.5" stroke="#26a69a" stroke-width="1" stroke-dasharray="1 2"/>
<g shape-rendering="geometricPrecision" fill="none" stroke="#2962ff" stroke-width="2.2" stroke-linejoin="miter" stroke-linecap="round">
<polyline points="1121.5,168 1137.5,150.9 1168.2,172.5 1191.8,142.8 1223.2,190.5 1261.8,166 1293.9,206.6"/>
<polyline points="1279.5,204.9 1293.9,206.6 1295.6,192.6"/>
</g>
<g>
<rect x="12" y="648.8" width="6" height="3.7" fill="#26a69a"/>
<rect x="19" y="647.8" width="7" height="4.7" fill="#26a69a"/>
<rect x="27" y="637.8" width="7" height="14.7" fill="#26a69a"/>
<rect x="35" y="651.6" width="7" height="1.0" fill="#b2dfdb"/>
<rect x="43" y="644.8" width="7" height="7.7" fill="#26a69a"/>
<rect x="51" y="639.8" width="6" height="12.7" fill="#26a69a"/>
<rect x="58" y="628.8" width="7" height="23.7" fill="#26a69a"/>
<rect x="66" y="591.9" width="7" height="60.6" fill="#26a69a"/>
<rect x="74" y="563.0" width="7" height="89.5" fill="#26a69a"/>
<rect x="82" y="570.0" width="7" height="82.5" fill="#b2dfdb"/>
<rect x="90" y="566.0" width="6" height="86.5" fill="#26a69a"/>
<rect x="97" y="562.0" width="7" height="90.5" fill="#26a69a"/>
<rect x="105" y="576.0" width="7" height="76.5" fill="#b2dfdb"/>
<rect x="113" y="576.0" width="7" height="76.5" fill="#26a69a"/>
<rect x="121" y="599.9" width="7" height="52.6" fill="#b2dfdb"/>
<rect x="129" y="621.8" width="6" height="30.7" fill="#b2dfdb"/>
<rect x="136" y="652.5" width="7" height="1.0" fill="#ff5252"/>
<rect x="144" y="652.5" width="7" height="17.2" fill="#ff5252"/>
<rect x="152" y="652.5" width="7" height="40.2" fill="#ff5252"/>
<rect x="160" y="652.5" width="6" height="54.1" fill="#ff5252"/>
<rect x="167" y="652.5" width="7" height="58.1" fill="#ff5252"/>
<rect x="175" y="652.5" width="7" height="54.1" fill="#ffcdd2"/>
<rect x="183" y="652.5" width="7" height="49.1" fill="#ffcdd2"/>
<rect x="191" y="652.5" width="7" height="33.2" fill="#ffcdd2"/>
<rect x="199" y="652.5" width="6" height="15.2" fill="#ffcdd2"/>
<rect x="206" y="652.5" width="7" height="4.2" fill="#ffcdd2"/>
<rect x="214" y="652.5" width="7" height="10.2" fill="#ff5252"/>
<rect x="222" y="652.5" width="7" height="8.2" fill="#ffcdd2"/>
<rect x="230" y="652.5" width="7" height="19.2" fill="#ff5252"/>
<rect x="238" y="652.5" width="6" height="39.1" fill="#ff5252"/>
<rect x="245" y="652.5" width="7" height="43.1" fill="#ff5252"/>
<rect x="253" y="652.5" width="7" height="57.2" fill="#ff5252"/>
<rect x="261" y="652.5" width="7" height="59.1" fill="#ff5252"/>
<rect x="269" y="652.5" width="7" height="39.1" fill="#ffcdd2"/>
<rect x="277" y="652.5" width="6" height="24.2" fill="#ffcdd2"/>
<rect x="284" y="652.5" width="7" height="16.2" fill="#ffcdd2"/>
<rect x="292" y="652.5" width="7" height="7.2" fill="#ffcdd2"/>
<rect x="300" y="652.5" width="7" height="4.4" fill="#ffcdd2"/>
<rect x="308" y="652.5" width="7" height="6.1" fill="#ff5252"/>
<rect x="316" y="652.5" width="6" height="16.2" fill="#ff5252"/>
<rect x="323" y="652.5" width="7" height="18.2" fill="#ff5252"/>
<rect x="331" y="652.5" width="7" height="21.1" fill="#ff5252"/>
<rect x="339" y="652.5" width="7" height="20.1" fill="#ffcdd2"/>
<rect x="347" y="652.5" width="7" height="15.1" fill="#ffcdd2"/>
<rect x="355" y="652.5" width="6" height="17.1" fill="#ff5252"/>
<rect x="362" y="652.5" width="7" height="17.1" fill="#ffcdd2"/>
<rect x="370" y="652.5" width="7" height="13.2" fill="#ffcdd2"/>
<rect x="378" y="652.5" width="7" height="15.1" fill="#ff5252"/>
<rect x="386" y="652.5" width="7" height="16.2" fill="#ff5252"/>
<rect x="394" y="652.5" width="6" height="21.1" fill="#ff5252"/>
<rect x="401" y="652.5" width="7" height="25.0" fill="#ff5252"/>
<rect x="409" y="652.5" width="7" height="19.0" fill="#ffcdd2"/>
<rect x="417" y="652.5" width="7" height="26.1" fill="#ff5252"/>
<rect x="425" y="652.5" width="7" height="33.2" fill="#ff5252"/>
<rect x="433" y="652.5" width="6" height="33.9" fill="#ff5252"/>
<rect x="440" y="652.5" width="7" height="31.1" fill="#ffcdd2"/>
<rect x="448" y="652.5" width="7" height="23.3" fill="#ffcdd2"/>
<rect x="456" y="652.5" width="7" height="14.3" fill="#ffcdd2"/>
<rect x="464" y="652.5" width="7" height="11.2" fill="#ffcdd2"/>
<rect x="472" y="652.5" width="6" height="9.2" fill="#ffcdd2"/>
<rect x="479" y="652.5" width="7" height="8.0" fill="#ffcdd2"/>
<rect x="487" y="652.5" width="7" height="1.9" fill="#ffcdd2"/>
<rect x="495" y="646.2" width="7" height="6.3" fill="#26a69a"/>
<rect x="503" y="646.2" width="7" height="6.3" fill="#b2dfdb"/>
<rect x="511" y="652.5" width="6" height="2.4" fill="#ff5252"/>
<rect x="518" y="652.5" width="7" height="1.0" fill="#ffcdd2"/>
<rect x="526" y="646.8" width="7" height="5.7" fill="#26a69a"/>
<rect x="534" y="640.7" width="7" height="11.8" fill="#26a69a"/>
<rect x="542" y="628.7" width="7" height="23.8" fill="#26a69a"/>
<rect x="550" y="604.8" width="6" height="47.7" fill="#26a69a"/>
<rect x="557" y="587.0" width="7" height="65.5" fill="#26a69a"/>
<rect x="565" y="577.0" width="7" height="75.5" fill="#26a69a"/>
<rect x="573" y="577.0" width="7" height="75.5" fill="#b2dfdb"/>
<rect x="581" y="582.0" width="6" height="70.5" fill="#b2dfdb"/>
<rect x="588" y="597.2" width="7" height="55.3" fill="#b2dfdb"/>
<rect x="596" y="609.2" width="7" height="43.3" fill="#b2dfdb"/>
<rect x="604" y="633.1" width="7" height="19.4" fill="#b2dfdb"/>
<rect x="612" y="637.0" width="7" height="15.5" fill="#b2dfdb"/>
<rect x="620" y="637.0" width="6" height="15.5" fill="#26a69a"/>
<rect x="627" y="652.5" width="7" height="1.3" fill="#ff5252"/>
<rect x="635" y="652.5" width="7" height="7.1" fill="#ff5252"/>
<rect x="643" y="652.5" width="7" height="22.4" fill="#ff5252"/>
<rect x="651" y="652.5" width="7" height="30.2" fill="#ff5252"/>
<rect x="659" y="652.5" width="6" height="24.1" fill="#ffcdd2"/>
<rect x="666" y="652.5" width="7" height="27.4" fill="#ff5252"/>
<rect x="674" y="652.5" width="7" height="23.0" fill="#ffcdd2"/>
<rect x="682" y="652.5" width="7" height="77.4" fill="#ff5252"/>
<rect x="690" y="652.5" width="7" height="93.1" fill="#ff5252"/>
<rect x="698" y="652.5" width="6" height="77.4" fill="#ffcdd2"/>
<rect x="705" y="652.5" width="7" height="68.1" fill="#ffcdd2"/>
<rect x="713" y="652.5" width="7" height="69.4" fill="#ff5252"/>
<rect x="721" y="652.5" width="7" height="68.1" fill="#ffcdd2"/>
<rect x="729" y="652.5" width="7" height="65.5" fill="#ffcdd2"/>
<rect x="737" y="652.5" width="6" height="63.3" fill="#ffcdd2"/>
<rect x="744" y="652.5" width="7" height="65.5" fill="#ff5252"/>
<rect x="752" y="652.5" width="7" height="64.4" fill="#ffcdd2"/>
<rect x="760" y="652.5" width="7" height="56.3" fill="#ffcdd2"/>
<rect x="768" y="652.5" width="7" height="35.4" fill="#ffcdd2"/>
<rect x="776" y="652.5" width="6" height="23.5" fill="#ffcdd2"/>
<rect x="783" y="652.5" width="7" height="42.6" fill="#ff5252"/>
<rect x="791" y="652.5" width="7" height="41.5" fill="#ffcdd2"/>
<rect x="799" y="652.5" width="7" height="19.3" fill="#ffcdd2"/>
<rect x="807" y="652.5" width="7" height="4.5" fill="#ffcdd2"/>
<rect x="815" y="649.0" width="6" height="3.5" fill="#26a69a"/>
<rect x="822" y="641.8" width="7" height="10.7" fill="#26a69a"/>
<rect x="830" y="634.2" width="7" height="18.3" fill="#26a69a"/>
<rect x="838" y="630.9" width="7" height="21.6" fill="#26a69a"/>
<rect x="846" y="624.0" width="7" height="28.5" fill="#26a69a"/>
<rect x="854" y="616.8" width="6" height="35.7" fill="#26a69a"/>
<rect x="861" y="608.1" width="7" height="44.4" fill="#26a69a"/>
<rect x="869" y="600.9" width="7" height="51.6" fill="#26a69a"/>
<rect x="877" y="593.9" width="7" height="58.6" fill="#26a69a"/>
<rect x="885" y="595.0" width="7" height="57.5" fill="#b2dfdb"/>
<rect x="893" y="584.1" width="6" height="68.4" fill="#26a69a"/>
<rect x="900" y="587.0" width="7" height="65.5" fill="#b2dfdb"/>
<rect x="908" y="602.2" width="7" height="50.3" fill="#b2dfdb"/>
<rect x="916" y="607.0" width="7" height="45.5" fill="#b2dfdb"/>
<rect x="924" y="610.3" width="7" height="42.2" fill="#b2dfdb"/>
<rect x="932" y="610.3" width="6" height="42.2" fill="#26a69a"/>
<rect x="939" y="610.3" width="7" height="42.2" fill="#26a69a"/>
<rect x="947" y="608.1" width="7" height="44.4" fill="#26a69a"/>
<rect x="955" y="628.1" width="7" height="24.4" fill="#b2dfdb"/>
<rect x="963" y="652.5" width="7" height="1.3" fill="#ff5252"/>
<rect x="971" y="652.5" width="6" height="11.1" fill="#ff5252"/>
<rect x="978" y="652.5" width="7" height="28.0" fill="#ff5252"/>
<rect x="986" y="652.5" width="7" height="36.1" fill="#ff5252"/>
<rect x="994" y="652.5" width="7" height="39.3" fill="#ff5252"/>
<rect x="1002" y="652.5" width="6" height="35.0" fill="#ffcdd2"/>
<rect x="1009" y="652.5" width="7" height="35.0" fill="#ff5252"/>
<rect x="1017" y="652.5" width="7" height="32.2" fill="#ffcdd2"/>
<rect x="1025" y="652.5" width="7" height="25.9" fill="#ffcdd2"/>
<rect x="1033" y="652.5" width="7" height="29.1" fill="#ff5252"/>
<rect x="1041" y="652.5" width="6" height="30.2" fill="#ff5252"/>
<rect x="1048" y="652.5" width="7" height="31.1" fill="#ff5252"/>
<rect x="1056" y="652.5" width="7" height="13.9" fill="#ffcdd2"/>
<rect x="1064" y="651.2" width="7" height="1.3" fill="#26a69a"/>
<rect x="1072" y="644.0" width="7" height="8.5" fill="#26a69a"/>
<rect x="1080" y="652.5" width="6" height="4.1" fill="#ff5252"/>
<rect x="1087" y="652.5" width="7" height="19.1" fill="#ff5252"/>
<rect x="1095" y="652.5" width="7" height="45.2" fill="#ff5252"/>
<rect x="1103" y="652.5" width="7" height="37.2" fill="#ffcdd2"/>
<rect x="1111" y="652.5" width="7" height="30.2" fill="#ffcdd2"/>
<rect x="1119" y="652.5" width="7" height="19.1" fill="#ffcdd2"/>
</g>
<rect x="11" y="652" width="1439" height="1" fill="#f0f1f3"/>
<line x1="10" y1="652.5" x2="1450" y2="652.5" stroke="#9598a1" stroke-width="1" stroke-dasharray="5 6"/>
<rect x="11" y="538" width="1507" height="1" fill="#e0e3eb"/>
<g fill="#f0f0f0">
<rect x="9" y="26" width="1510" height="2"/>
<rect x="9" y="790" width="1510" height="2"/>
<rect x="9" y="26" width="2" height="766"/>
<rect x="1517" y="26" width="2" height="766"/>
</g>
<g shape-rendering="geometricPrecision">
<text x="10.1" y="18.9" font-size="12.6" fill="#0b0b0b" textLength="384.7" lengthAdjust="spacingAndGlyphs">Ascv33 опубликовал(а) на TradingView.com, Апр 22, 2025 14:19 UTC+3</text>
<text x="17.8" y="45.8" font-size="12.5" fill="#131722" textLength="202.6" lengthAdjust="spacingAndGlyphs">Серебро / Доллар США · 1ч · OANDA</text>
<text x="228.3" y="45.8" font-size="12.5" fill="#131722" textLength="77.5" lengthAdjust="spacingAndGlyphs">ОТКР32,60000</text>
<text x="313.6" y="45.8" font-size="12.5" fill="#131722" textLength="78.2" lengthAdjust="spacingAndGlyphs">МАКС32,69045</text>
<text x="399.6" y="45.8" font-size="12.5" fill="#131722" textLength="72.5" lengthAdjust="spacingAndGlyphs">МИН32,57950</text>
<text x="480.3" y="45.8" font-size="12.5" fill="#131722" textLength="75.6" lengthAdjust="spacingAndGlyphs">ЗАКР32,67100</text>
<text x="564.0" y="45.8" font-size="12.5" fill="#131722" textLength="96.1" lengthAdjust="spacingAndGlyphs">+0,06200 (+0,19%)</text>
<text x="17.8" y="62.6" font-size="12.5" fill="#131722" textLength="75.4" lengthAdjust="spacingAndGlyphs">Объём · Тики</text>
<text x="101.6" y="62.6" font-size="12.5" fill="#22ab94" textLength="17.6" lengthAdjust="spacingAndGlyphs">906</text>
<text x="17.8" y="79.6" font-size="12.5" fill="#131722" textLength="288.5" lengthAdjust="spacingAndGlyphs">Order Block Detector [LuxAlgo] (5, 3, 3, ——, 1, Wick)</text>
<text x="18.0" y="558.0" font-size="12.5" fill="#131722" textLength="110.4" lengthAdjust="spacingAndGlyphs">MACD (12, 26, close)</text>
<text x="136.6" y="558.0" font-size="12.5" fill="#ffcdd2" textLength="47.1" lengthAdjust="spacingAndGlyphs">−0,01551</text>
<text x="1459.2" y="63.2" font-size="12.8" fill="#131722" textLength="48.1" lengthAdjust="spacingAndGlyphs">33,20000</text>
<text x="1459.2" y="105.8" font-size="12.8" fill="#131722" textLength="48.1" lengthAdjust="spacingAndGlyphs">33,00000</text>
<text x="1459.2" y="148.4" font-size="12.8" fill="#131722" textLength="48.1" lengthAdjust="spacingAndGlyphs">32,80000</text>
<text x="1459.2" y="191.0" font-size="12.8" fill="#131722" textLength="48.1" lengthAdjust="spacingAndGlyphs">32,60000</text>
<text x="1459.2" y="233.7" font-size="12.8" fill="#131722" textLength="48.1" lengthAdjust="spacingAndGlyphs">32,40000</text>
<text x="1459.2" y="276.3" font-size="12.8" fill="#131722" textLength="48.1" lengthAdjust="spacingAndGlyphs">32,20000</text>
<text x="1459.2" y="318.9" font-size="12.8" fill="#131722" textLength="48.1" lengthAdjust="spacingAndGlyphs">32,00000</text>
<text x="1459.2" y="361.5" font-size="12.8" fill="#131722" textLength="48.1" lengthAdjust="spacingAndGlyphs">31,80000</text>
<text x="1459.2" y="404.1" font-size="12.8" fill="#131722" textLength="48.1" lengthAdjust="spacingAndGlyphs">31,60000</text>
<text x="1459.2" y="446.8" font-size="12.8" fill="#131722" textLength="48.1" lengthAdjust="spacingAndGlyphs">31,40000</text>
<text x="1459.2" y="489.4" font-size="12.8" fill="#131722" textLength="48.1" lengthAdjust="spacingAndGlyphs">31,20000</text>
<text x="1459.2" y="532.0" font-size="12.8" fill="#131722" textLength="48.1" lengthAdjust="spacingAndGlyphs">31,00000</text>
<text x="1459.2" y="593.0" font-size="12.8" fill="#131722" textLength="41.3" lengthAdjust="spacingAndGlyphs">0,05000</text>
<text x="1459.2" y="655.9" font-size="12.8" fill="#131722" textLength="41.3" lengthAdjust="spacingAndGlyphs">0,00000</text>
<text x="1459.2" y="718.8" font-size="12.8" fill="#131722" textLength="48.2" lengthAdjust="spacingAndGlyphs">−0,05000</text>
<path d="M1451,70 H1511 a2,2 0 0 1 2,2 V85 a2,2 0 0 1 -2,2 H1451 Z" fill="#f23645"/><text x="1459.2" y="82.0" font-size="12.8" fill="#fff" font-weight="bold" textLength="48.1" lengthAdjust="spacingAndGlyphs">33,11405</text>
<path d="M1451,109 H1511 a2,2 0 0 1 2,2 V124 a2,2 0 0 1 -2,2 H1451 Z" fill="#f23645"/><text x="1459.2" y="121.2" font-size="12.8" fill="#fff" font-weight="bold" textLength="48.1" lengthAdjust="spacingAndGlyphs">32,93325</text>
<path d="M1451,143 H1511 a2,2 0 0 1 2,2 V158 a2,2 0 0 1 -2,2 H1451 Z" fill="#f23645"/><text x="1459.2" y="155.4" font-size="12.8" fill="#fff" font-weight="bold" textLength="48.1" lengthAdjust="spacingAndGlyphs">32,77162</text>
<path d="M1451,164 H1511 a2,2 0 0 1 2,2 V193 a2,2 0 0 1 -2,2 H1451 Z" fill="#22ab94"/><text x="1459.2" y="176.0" font-size="12.8" fill="#fff" font-weight="bold" textLength="48.1" lengthAdjust="spacingAndGlyphs">32,67100</text><text x="1459.2" y="189.6" font-size="12.8" fill="#c9ece5" font-weight="bold" textLength="30.0" lengthAdjust="spacingAndGlyphs">40:14</text>
<path d="M1451,248 H1511 a2,2 0 0 1 2,2 V262 a2,2 0 0 1 -2,2 H1451 Z" fill="#4caf50"/><text x="1459.2" y="260.1" font-size="12.8" fill="#fff" font-weight="bold" textLength="48.1" lengthAdjust="spacingAndGlyphs">32,27874</text>
<path d="M1451,289 H1511 a2,2 0 0 1 2,2 V303 a2,2 0 0 1 -2,2 H1451 Z" fill="#4caf50"/><text x="1459.2" y="300.9" font-size="12.8" fill="#fff" font-weight="bold" textLength="48.1" lengthAdjust="spacingAndGlyphs">32,08470</text>
<path d="M1451,315 H1511 a2,2 0 0 1 2,2 V330 a2,2 0 0 1 -2,2 H1451 Z" fill="#4caf50"/><text x="1459.2" y="327.4" font-size="12.8" fill="#fff" font-weight="bold" textLength="48.1" lengthAdjust="spacingAndGlyphs">31,96125</text>
<path d="M1451,404 H1511 a2,2 0 0 1 2,2 V419 a2,2 0 0 1 -2,2 H1451 Z" fill="#4caf50"/><text x="1459.2" y="416.4" font-size="12.8" fill="#fff" font-weight="bold" textLength="48.1" lengthAdjust="spacingAndGlyphs">31,54050</text>
<rect x="1451" y="28" width="66" height="32.6" fill="#fff"/>
<rect x="1454.4" y="31.2" width="59.1" height="25.2" rx="5" fill="#fff" stroke="#f0f0f0" stroke-width="2"/>
<text x="1463.6" y="48.9" font-size="12.8" fill="#131722" textLength="20.3" lengthAdjust="spacingAndGlyphs">USD</text>
<text x="124.3" y="781.9" font-size="12.6" fill="#131722" text-anchor="middle" font-weight="bold">14</text>
<text x="303.5" y="781.9" font-size="12.6" fill="#131722" text-anchor="middle">15</text>
<text x="482.5" y="781.9" font-size="12.6" fill="#131722" text-anchor="middle">16</text>
<text x="661.5" y="781.9" font-size="12.6" fill="#131722" text-anchor="middle">17</text>
<text x="841.0" y="781.9" font-size="12.6" fill="#131722" text-anchor="middle" font-weight="bold">21</text>
<text x="1020.0" y="781.9" font-size="12.6" fill="#131722" text-anchor="middle">22</text>
<text x="1200.0" y="781.9" font-size="12.6" fill="#131722" text-anchor="middle">23</text>
<text x="1387.0" y="781.9" font-size="12.6" fill="#131722" text-anchor="middle">24</text>
<g fill="#111">
<rect x="10" y="804.1" width="7.7" height="3.6"/><rect x="14" y="804.1" width="3.7" height="9.6"/>
<circle cx="20.97" cy="806.1" r="1.95"/>
<polygon points="25.0,804.1 29.9,804.1 25.8,813.7 21.2,813.7"/>
</g>
<text x="33.0" y="813.9" font-size="13.2" fill="#131722" textLength="70.3" lengthAdjust="spacingAndGlyphs">TradingView</text>
</g>
</svg></body></html>
